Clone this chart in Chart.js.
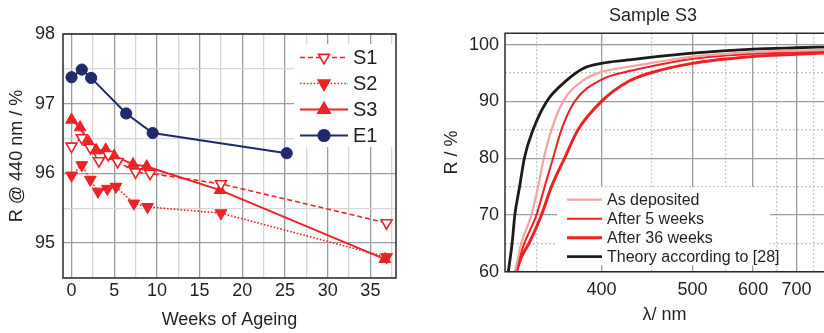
<!DOCTYPE html>
<html><head><meta charset="utf-8">
<script src="https://cdn.jsdelivr.net/npm/chart.js@4.4.1/dist/chart.umd.min.js"></script>
<style>
html,body{margin:0;padding:0;background:#fff;}
#wrap{position:relative;width:824px;height:333px;overflow:hidden;background:#fff;}
#c1{position:absolute;left:0;top:0;}
#c2{position:absolute;left:410px;top:0;}
</style></head><body>
<div id="wrap"><canvas id="c1" width="410" height="333"></canvas><canvas id="c2" width="486" height="333"></canvas></div>
<script>
// ---------- Left panel: R @ 440 nm vs weeks of ageing ----------
const s1Weeks = [0, 1.2, 2.2, 3.2, 4.3, 5.4, 7.5, 9.2, 17.5, 36.9];
const s1R     = [96.39, 96.51, 96.37, 96.18, 96.27, 96.17, 96.02, 96.00, 95.85, 95.29];
const s2Weeks = [0, 1.2, 2.2, 3.1, 4.2, 5.2, 7.3, 8.9, 17.5, 36.9];
const s2R     = [95.97, 96.12, 95.91, 95.74, 95.78, 95.81, 95.57, 95.52, 95.43, 94.80];
const s3Weeks = [0, 1.0, 2.0, 2.9, 4.0, 5.0, 7.2, 8.8, 17.4, 36.7];
const s3R     = [96.77, 96.66, 96.45, 96.33, 96.34, 96.25, 96.13, 96.10, 95.76, 94.77];
const e1Weeks = [0, 1.2, 2.3, 6.4, 9.5, 25.2];
const e1R     = [97.38, 97.49, 97.37, 96.86, 96.58, 96.29];
const weekTicks = [0, 2.5, 5, 7.5, 10, 12.5, 15, 17.5, 20, 22.5, 25, 27.5, 30, 32.5, 35, 37.5];
const weekLabels = [0, 5, 10, 15, 20, 25, 30, 35];
const rTicks = [94.5, 95, 95.5, 96, 96.5, 97, 97.5, 98];
const rLabels = [95, 96, 97, 98];

// ---------- Right panel: Sample S3 spectra ----------
const lambdaTicks = [350, 400, 450, 500, 550, 600, 650, 700, 750];
const lambdaLabels = [400, 500, 600, 700];
const specTicks = [60, 65, 70, 75, 80, 85, 90, 95, 100];
const specLabels = [60, 70, 80, 90, 100];
const depNm   = [336, 338, 340, 346.6, 351.1, 355, 360.4, 368.9, 384.5, 400, 425, 450, 500, 600, 700, 800];
const depR    = [60, 62.5, 65, 70, 75, 80, 85, 90, 93.7, 95.2, 96.1, 96.8, 97.9, 98.7, 98.95, 99.1];
const w5Nm    = [336.5, 339, 342, 350, 355.6, 361.5, 367.6, 377.8, 400, 425, 450, 500, 600, 700, 800];
const w5R     = [60, 62.5, 65, 70, 75, 80, 85, 90, 93.85, 95.3, 96.2, 97.5, 98.4, 98.65, 98.8];
const w36Nm   = [337, 340, 345, 353.4, 360.4, 370, 380.4, 400, 425, 450, 500, 600, 700, 800];
const w36R    = [60, 62.5, 65, 70, 75, 80, 85, 90, 93.5, 95.1, 96.7, 97.9, 98.3, 98.55];
const thNm    = [332, 334.3, 336, 339, 342, 347.7, 357, 371.5, 384.5, 400, 425, 450, 500, 600, 700, 800];
const thR     = [60, 65, 70, 75, 80, 85, 90, 93.7, 95.8, 96.7, 97.3, 97.8, 98.5, 99.2, 99.45, 99.6];

const RED = '#ec2227', PINK = '#f5a3a3', NAVY = '#1e2a6c', BLACK = '#1b1b1b', TXT = '#231f20';
const FONT = 'Liberation Sans, Arial, Helvetica, sans-serif';
const pts = (xs, ys) => xs.map((x, i) => ({x: x, y: ys[i]}));
const inv = (nm) => -1000 / nm;   // axis linear in photon energy (1/lambda)
const specPts = (nms, rs) => nms.map((n, i) => ({x: inv(n), y: rs[i]}));

const framePlugin = {
  id: 'frame',
  afterDraw(chart, args, o) {
    const a = chart.chartArea, ctx = chart.ctx;
    ctx.save(); ctx.strokeStyle = '#2a2a2a'; ctx.lineWidth = 1.5;
    ctx.beginPath();
    if (o.noRight) {
      ctx.moveTo(a.right + 2, a.top); ctx.lineTo(a.left, a.top); ctx.lineTo(a.left, a.bottom); ctx.lineTo(a.right + 2, a.bottom);
    } else {
      ctx.rect(a.left, a.top, a.right - a.left, a.bottom - a.top);
    }
    ctx.stroke();
    ctx.restore();
  }
};

function drawMarker(ctx, ds, x, y) {
  if (!ds.pointStyle) return;
  ctx.fillStyle = ds.pointBackgroundColor || ds.borderColor;
  ctx.strokeStyle = ds.pointBorderColor || ds.borderColor;
  ctx.setLineDash([]);
  Chart.helpers.drawPoint(ctx, {pointStyle: ds.pointStyle, rotation: ds.pointRotation || 0,
    radius: ds.pointRadius, borderWidth: ds.pointBorderWidth || 1}, x, y);
}

const boxLegend = {
  id: 'boxLegend',
  afterDatasetsDraw(chart, args, o) {
    const a = chart.chartArea, ctx = chart.ctx;
    const bx = o.anchorRight ? a.right - o.w : a.left + o.dx;
    const by = o.anchorBottom ? a.bottom - o.dy - o.h : a.top + o.dy;
    ctx.save();
    ctx.fillStyle = '#fff';
    ctx.fillRect(bx, by, o.w, o.h);
    ctx.font = o.fontSize + 'px ' + FONT;
    ctx.textBaseline = 'middle';
    chart.data.datasets.forEach((ds, i) => {
      const y = by + o.first + i * o.step;
      const x0 = bx + o.lineX0, x1 = bx + o.lineX1;
      ctx.strokeStyle = ds.borderColor; ctx.lineWidth = ds.borderWidth;
      ctx.setLineDash(ds.borderDash || []);
      ctx.beginPath(); ctx.moveTo(x0, y); ctx.lineTo(x1, y); ctx.stroke();
      drawMarker(ctx, ds, (x0 + x1) / 2, y);
      ctx.fillStyle = TXT;
      ctx.fillText(ds.label, bx + o.textX, y + 1);
    });
    ctx.restore();
  }
};

const gridColor = (majorList, major, minor) => (c) => (c.tick && majorList.includes(c.tick.value)) ? major : minor;

// ---------------- Left chart ----------------
new Chart(document.getElementById('c1'), {
  type: 'scatter',
  data: { datasets: [
    {label: 'S1', data: pts(s1Weeks, s1R), showLine: true, borderColor: RED, borderWidth: 1.6, borderDash: [5, 3],
     pointStyle: 'triangle', pointRotation: 180, pointRadius: 6.3, pointBackgroundColor: '#fff', pointBorderColor: RED, pointBorderWidth: 1.6},
    {label: 'S2', data: pts(s2Weeks, s2R), showLine: true, borderColor: RED, borderWidth: 1.6, borderDash: [1.6, 1.8],
     pointStyle: 'triangle', pointRotation: 180, pointRadius: 6.8, pointBackgroundColor: RED, pointBorderColor: RED, pointBorderWidth: 1},
    {label: 'S3', data: pts(s3Weeks, s3R), showLine: true, borderColor: RED, borderWidth: 2,
     pointStyle: 'triangle', pointRotation: 0, pointRadius: 6.8, pointBackgroundColor: RED, pointBorderColor: RED, pointBorderWidth: 1},
    {label: 'E1', data: pts(e1Weeks, e1R), showLine: true, borderColor: NAVY, borderWidth: 2,
     pointStyle: 'circle', pointRadius: 5.6, pointBackgroundColor: NAVY, pointBorderColor: NAVY, pointBorderWidth: 1}
  ]},
  options: {
    responsive: false, animation: false,
    layout: {padding: {left: 0, right: 14, top: 34, bottom: 0}},
    plugins: {legend: {display: false}, tooltip: {enabled: false}, frame: {noRight: false},
      boxLegend: {anchorRight: true, w: 102, h: 103, dy: 10, first: 13.5, step: 26, lineX0: 6, lineX1: 54, textX: 59, fontSize: 20}},
    scales: {
      x: {type: 'linear', min: -1, max: 38,
        afterBuildTicks: s => { s.ticks = weekTicks.map(v => ({value: v})); },
        afterFit: s => { s.height = 55; },
        ticks: {autoSkip: false, maxRotation: 0, padding: 2, color: TXT, font: {family: FONT, size: 18},
          callback: v => weekLabels.includes(v) ? String(v) : ''},
        grid: {drawTicks: false, color: gridColor(weekLabels, '#9c9c9c', '#d6d6d6'), lineWidth: 1.3},
        border: {display: false},
        title: {display: true, text: 'Weeks of Ageing', color: TXT, font: {family: FONT, size: 18}, padding: {top: 0, bottom: 2}}
      },
      y: {type: 'linear', min: 94.5, max: 98,
        afterBuildTicks: s => { s.ticks = rTicks.map(v => ({value: v})); },
        afterFit: s => { s.width = 63; },
        ticks: {autoSkip: false, padding: 8, color: TXT, font: {family: FONT, size: 18},
          callback: v => rLabels.includes(v) ? String(v) : ''},
        grid: {drawTicks: false, color: gridColor(rLabels, '#9c9c9c', '#d6d6d6'), lineWidth: 1.3},
        border: {display: false},
        title: {display: true, text: 'R @ 440 nm / %', color: TXT, font: {family: FONT, size: 18}, padding: {top: 6, bottom: 0}}
      }
    }
  },
  plugins: [framePlugin, boxLegend]
});

// ---------------- Right chart ----------------
new Chart(document.getElementById('c2'), {
  type: 'scatter',
  data: { datasets: [
    {label: 'As deposited', data: specPts(depNm, depR), showLine: true, borderColor: PINK, borderWidth: 2.2, pointRadius: 0, cubicInterpolationMode: 'monotone'},
    {label: 'After 5 weeks', data: specPts(w5Nm, w5R), showLine: true, borderColor: RED, borderWidth: 2, pointRadius: 0, cubicInterpolationMode: 'monotone'},
    {label: 'After 36 weeks', data: specPts(w36Nm, w36R), showLine: true, borderColor: RED, borderWidth: 3, pointRadius: 0, cubicInterpolationMode: 'monotone'},
    {label: 'Theory according to [28]', data: specPts(thNm, thR), showLine: true, borderColor: BLACK, borderWidth: 2.8, pointRadius: 0, cubicInterpolationMode: 'monotone'}
  ]},
  options: {
    responsive: false, animation: false,
    layout: {padding: {left: 0, right: 0, top: 0, bottom: 0}},
    plugins: {legend: {display: false}, tooltip: {enabled: false}, frame: {noRight: true},
      title: {display: true, text: 'Sample S3', color: TXT, font: {family: FONT, size: 18, weight: 'normal'}, padding: {top: 5, bottom: 6.7}},
      boxLegend: {anchorBottom: true, dx: 52, dy: 6.5, w: 213, h: 78, first: 12.5, step: 19, lineX0: 10, lineX1: 45, textX: 50, fontSize: 16}},
    scales: {
      x: {type: 'linear', min: inv(330), max: inv(783),
        afterBuildTicks: s => { s.ticks = lambdaTicks.map(n => ({value: inv(n)})); },
        afterFit: s => { s.height = 61.3; },
        ticks: {autoSkip: false, maxRotation: 0, padding: 8, color: TXT, font: {family: FONT, size: 18},
          callback: v => { const n = Math.round(-1000 / v); return lambdaLabels.includes(n) ? String(n) : ''; }},
        grid: {drawTicks: false, lineWidth: 1.3,
          color: c => (c.tick && lambdaLabels.includes(Math.round(-1000 / c.tick.value))) ? '#9c9c9c' : '#c4c4c4'},
        border: {display: false,
          dash: c => (c.tick && !lambdaLabels.includes(Math.round(-1000 / c.tick.value))) ? [2, 2] : []},
        title: {display: true, text: 'λ/ nm', color: TXT, font: {family: FONT, size: 18}, padding: {top: 0, bottom: 7}}
      },
      y: {type: 'linear', min: 60, max: 102,
        afterBuildTicks: s => { s.ticks = specTicks.map(v => ({value: v})); },
        afterFit: s => { s.width = 95; },
        ticks: {autoSkip: false, padding: 6, color: TXT, font: {family: FONT, size: 18},
          callback: v => specLabels.includes(v) ? String(v) : ''},
        grid: {drawTicks: false, lineWidth: 1.3, color: gridColor(specLabels, '#9c9c9c', '#c4c4c4')},
        border: {display: false, dash: c => (c.tick && !specLabels.includes(c.tick.value)) ? [2, 2] : []},
        title: {display: true, text: 'R / %', color: TXT, font: {family: FONT, size: 18}, padding: {top: 31, bottom: 0}}
      },
      yPad: {type: 'linear', position: 'right', display: true, min: 60, max: 102,
        afterFit: s => { s.width = 72; },
        ticks: {display: false}, grid: {display: false, drawOnChartArea: false}, border: {display: false}}
    }
  },
  plugins: [framePlugin, boxLegend]
});
</script>
</body></html>
